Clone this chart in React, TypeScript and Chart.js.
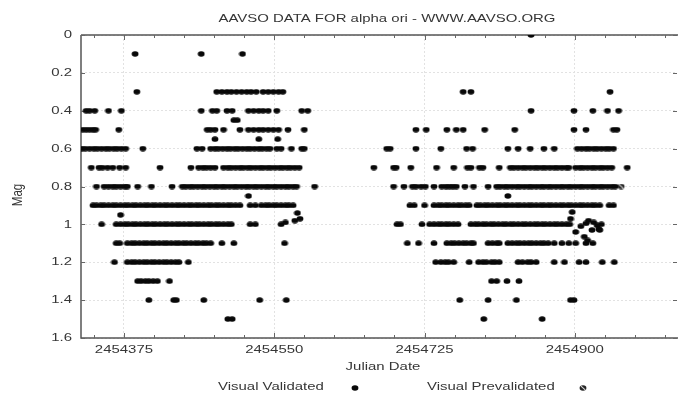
import React, { useEffect, useRef } from 'react';
import { Chart, registerables } from 'chart.js';

Chart.register(...registerables);

// ---- Text ----
const TITLE = 'AAVSO DATA FOR alpha ori - WWW.AAVSO.ORG';
const X_TITLE = 'Julian Date';
const Y_TITLE = 'Mag';
const LEGEND_VALIDATED = 'Visual Validated';
const LEGEND_PREVALIDATED = 'Visual Prevalidated';

// ---- Axes ----
const X_MIN = 2454325;
const X_MAX = 2455019;
const xMajorTicks = [2454375, 2454550, 2454725, 2454900];
const xMinorTicks = [
  2454340, 2454410, 2454445, 2454480, 2454515, 2454585, 2454620, 2454655, 2454690,
  2454760, 2454795, 2454830, 2454865, 2454935, 2454970, 2455005,
];
const Y_MIN = 0;
const Y_MAX = 1.6;
const yTicks = [0, 0.2, 0.4, 0.6, 0.8, 1.0, 1.2, 1.4, 1.6];

// ---- Data: Visual Validated, Julian dates grouped by magnitude row ----
const mag0_0 = [2454849];
const mag0_1 = [2454388, 2454465, 2454513];
const mag0_3 = [
  2454390, 2454483, 2454489, 2454495, 2454500, 2454506, 2454512, 2454518, 2454523, 2454529,
  2454537, 2454543, 2454549, 2454555, 2454560, 2454770, 2454779, 2454941,
];
const mag0_4 = [
  2454331, 2454335, 2454341, 2454357, 2454372, 2454465, 2454478, 2454483, 2454495, 2454501,
  2454520, 2454526, 2454532, 2454537, 2454543, 2454553, 2454582, 2454589, 2454849, 2454899,
  2454921, 2454938, 2454951,
];
const mag0_45 = [2454503, 2454507];
const mag0_5 = [
  2454327, 2454331, 2454335, 2454339, 2454342, 2454369, 2454472, 2454476, 2454481, 2454491,
  2454510, 2454520, 2454526, 2454532, 2454537, 2454543, 2454549, 2454555, 2454566, 2454585,
  2454715, 2454727, 2454751, 2454762, 2454770, 2454795, 2454830, 2454899, 2454913, 2454945,
  2454949,
];
const mag0_55 = [2454481, 2454532, 2454554];
const mag0_6 = [
  2454326, 2454330, 2454335, 2454340, 2454344, 2454349, 2454354, 2454358, 2454363, 2454367,
  2454372, 2454377, 2454397, 2454460, 2454466, 2454476, 2454481, 2454485, 2454490, 2454495,
  2454499, 2454504, 2454508, 2454513, 2454518, 2454522, 2454527, 2454532, 2454536, 2454541,
  2454545, 2454553, 2454558, 2454570, 2454582, 2454585, 2454681, 2454685, 2454715, 2454744,
  2454774, 2454781, 2454822, 2454834, 2454848, 2454864, 2454876, 2454903, 2454908, 2454913,
  2454917, 2454922, 2454926, 2454931, 2454936, 2454940, 2454945,
];
const mag0_7 = [
  2454337, 2454346, 2454350, 2454356, 2454362, 2454370, 2454377, 2454417, 2454453, 2454462,
  2454467, 2454471, 2454476, 2454481, 2454491, 2454496, 2454500, 2454505, 2454510, 2454514,
  2454519, 2454523, 2454528, 2454533, 2454537, 2454542, 2454546, 2454551, 2454556, 2454560,
  2454565, 2454569, 2454574, 2454579, 2454666, 2454689, 2454692, 2454709, 2454739, 2454759,
  2454775, 2454779, 2454789, 2454793, 2454812, 2454825, 2454829, 2454834, 2454839, 2454843,
  2454848, 2454853, 2454857, 2454862, 2454866, 2454871, 2454876, 2454880, 2454885, 2454890,
  2454893, 2454901, 2454906, 2454910, 2454915, 2454920, 2454924, 2454929, 2454933, 2454938,
  2454943, 2454961,
];
const mag0_8 = [
  2454343, 2454352, 2454357, 2454362, 2454366, 2454371, 2454376, 2454379, 2454391, 2454407,
  2454431, 2454443, 2454447, 2454452, 2454456, 2454461, 2454466, 2454470, 2454475, 2454480,
  2454484, 2454489, 2454493, 2454498, 2454503, 2454507, 2454512, 2454517, 2454521, 2454526,
  2454530, 2454535, 2454540, 2454544, 2454549, 2454553, 2454558, 2454563, 2454567, 2454572,
  2454576, 2454597, 2454689, 2454701, 2454711, 2454715, 2454721, 2454726, 2454736, 2454745,
  2454750, 2454754, 2454758, 2454762, 2454772, 2454782, 2454799, 2454809, 2454813, 2454818,
  2454822, 2454827, 2454832, 2454836, 2454841, 2454846, 2454850, 2454855, 2454860, 2454864,
  2454869, 2454873, 2454878, 2454883, 2454887, 2454892, 2454896, 2454901, 2454906, 2454910,
  2454915, 2454920, 2454924, 2454929, 2454933, 2454938, 2454943, 2454947,
];
const mag0_85 = [2454520, 2454822];
const mag0_9 = [
  2454339, 2454343, 2454348, 2454352, 2454357, 2454362, 2454366, 2454371, 2454376, 2454380,
  2454385, 2454389, 2454394, 2454399, 2454403, 2454408, 2454412, 2454417, 2454422, 2454426,
  2454431, 2454436, 2454440, 2454445, 2454450, 2454454, 2454459, 2454463, 2454468, 2454473,
  2454477, 2454482, 2454486, 2454491, 2454496, 2454500, 2454505, 2454510, 2454522, 2454528,
  2454535, 2454540, 2454544, 2454549, 2454553, 2454558, 2454563, 2454567, 2454572,
  2454708, 2454713, 2454725, 2454736, 2454741, 2454745, 2454750, 2454754, 2454759, 2454764,
  2454768, 2454773, 2454777, 2454786, 2454790, 2454795, 2454799, 2454804, 2454809, 2454813,
  2454818, 2454822, 2454827, 2454832, 2454836, 2454841, 2454846, 2454850, 2454855, 2454860,
  2454864, 2454869, 2454873, 2454878, 2454883, 2454887, 2454892, 2454896, 2454901, 2454906,
  2454910, 2454915, 2454920, 2454924, 2454929, 2454940, 2454945,
];
const mag1_0 = [
  2454349, 2454366, 2454371, 2454376, 2454380, 2454385, 2454389, 2454394, 2454399, 2454403,
  2454408, 2454412, 2454417, 2454422, 2454426, 2454431, 2454436, 2454440, 2454445, 2454450,
  2454454, 2454459, 2454463, 2454468, 2454473, 2454477, 2454482, 2454486, 2454491, 2454496,
  2454500, 2454522, 2454528, 2454558,
  2454693, 2454697, 2454722, 2454731, 2454736, 2454741, 2454745, 2454750, 2454754, 2454759,
  2454764, 2454779, 2454784, 2454788, 2454793, 2454797, 2454802, 2454806, 2454811, 2454816,
  2454820, 2454825, 2454829, 2454834, 2454839, 2454843, 2454848, 2454853, 2454857, 2454862,
  2454866, 2454871, 2454876, 2454880, 2454885, 2454890, 2454894, 2454931,
];
const mag1_1 = [
  2454366, 2454370, 2454379, 2454384, 2454388, 2454393, 2454398, 2454402, 2454407, 2454411,
  2454416, 2454421, 2454425, 2454430, 2454435, 2454439, 2454444, 2454448, 2454453, 2454458,
  2454462, 2454467, 2454471, 2454476, 2454489, 2454503, 2454562,
  2454705, 2454718, 2454736, 2454751, 2454756, 2454760, 2454765, 2454770, 2454774, 2454779,
  2454782, 2454799, 2454804, 2454809, 2454812, 2454822, 2454827, 2454832, 2454836, 2454841,
  2454846, 2454850, 2454855, 2454860, 2454864, 2454869, 2454876, 2454885, 2454893, 2454901,
  2454913, 2454921,
];
const mag1_2 = [
  2454364, 2454379, 2454384, 2454388, 2454393, 2454398, 2454402, 2454407, 2454411, 2454416,
  2454421, 2454425, 2454430, 2454435, 2454439, 2454450,
  2454738, 2454744, 2454749, 2454753, 2454759, 2454777, 2454788, 2454793, 2454797, 2454803,
  2454807, 2454812, 2454834, 2454839, 2454845, 2454849, 2454855, 2454876, 2454888, 2454905,
  2454913, 2454932, 2454946,
];
const mag1_3 = [2454391, 2454395, 2454400, 2454404, 2454409, 2454414, 2454428, 2454803, 2454809, 2454821, 2454835];
const mag1_4 = [2454404, 2454433, 2454436, 2454468, 2454533, 2454564, 2454766, 2454799, 2454832, 2454895, 2454899];
const mag1_5 = [2454496, 2454501, 2454794, 2454862];

// off-row validated observations
const extraJD = [
  2454371, 2454577, 2454563, 2454574, 2454580, 2454897, 2454895, 2454901, 2454907,
  2454913, 2454916, 2454922, 2454926, 2454928, 2454920, 2454911, 2454915, 2454929,
];
const extraMag = [
  0.95, 0.94, 0.99, 0.98, 0.97, 0.935, 0.97, 1.04, 1.01,
  0.995, 0.98, 0.99, 1.005, 1.025, 1.03, 1.065, 1.085, 1.03,
];

// ---- Data: Visual Prevalidated ----
const prevalidatedJD = [2454954];
const prevalidatedMag = [0.8];

const rowMags = [0.0, 0.1, 0.3, 0.4, 0.45, 0.5, 0.55, 0.6, 0.7, 0.8, 0.85, 0.9, 1.0, 1.1, 1.2, 1.3, 1.4, 1.5];
const rowDates = [
  mag0_0, mag0_1, mag0_3, mag0_4, mag0_45, mag0_5, mag0_55, mag0_6, mag0_7, mag0_8,
  mag0_85, mag0_9, mag1_0, mag1_1, mag1_2, mag1_3, mag1_4, mag1_5,
];

const FONT = '11.5px "Liberation Sans", Arial, sans-serif';
const TEXT_COLOR = '#363636';
const SX = 1.3;

function makeMarker(pre: boolean): HTMLCanvasElement {
  const c = document.createElement('canvas');
  c.width = 8;
  c.height = 6;
  const g = c.getContext('2d') as CanvasRenderingContext2D;
  g.fillStyle = pre ? '#262626' : '#080808';
  g.beginPath();
  g.ellipse(4, 3, 3.4, 2.8, 0, 0, Math.PI * 2);
  g.fill();
  if (pre) {
    g.strokeStyle = '#d8d8d8';
    g.lineWidth = 1.1;
    g.beginPath();
    g.moveTo(2, 1.2);
    g.lineTo(6.2, 4.9);
    g.stroke();
  }
  return c;
}

function drawText(
  ctx: CanvasRenderingContext2D,
  text: string,
  x: number,
  y: number,
  align: CanvasTextAlign,
  rotate = false,
) {
  ctx.save();
  ctx.translate(x, y);
  if (rotate) {
    ctx.rotate(-Math.PI / 2);
    ctx.scale(1, SX);
  } else {
    ctx.scale(SX, 1);
  }
  ctx.font = FONT;
  ctx.fillStyle = TEXT_COLOR;
  ctx.textAlign = align;
  ctx.textBaseline = 'middle';
  ctx.fillText(text, 0, 0);
  ctx.restore();
}

function fmtMag(v: number): string {
  const r = Math.round(v * 10) / 10;
  return Number.isInteger(r) ? String(r) : r.toFixed(1);
}

export default function App() {
  const ref = useRef<HTMLCanvasElement>(null);

  useEffect(() => {
    const canvas = ref.current;
    if (!canvas) return;
    const dot = makeMarker(false);
    const preDot = makeMarker(true);

    const validated: { x: number; y: number }[] = [];
    rowDates.forEach((dates, i) => {
      dates.forEach((jd) => validated.push({ x: jd, y: rowMags[i] }));
    });
    extraJD.forEach((jd, i) => validated.push({ x: jd, y: extraMag[i] }));
    const prevalidated = prevalidatedJD.map((jd, i) => ({ x: jd, y: prevalidatedMag[i] }));

    const decor = {
      id: 'decor',
      beforeDraw(chart: any) {
        const { ctx, width, height } = chart;
        ctx.save();
        ctx.fillStyle = '#ffffff';
        ctx.fillRect(0, 0, width, height);
        ctx.restore();
      },
      beforeDatasetsDraw(chart: any) {
        const { ctx, chartArea: a, scales } = chart;
        const xs = scales.x;
        const ys = scales.y;
        ctx.save();
        ctx.strokeStyle = '#555555';
        ctx.lineWidth = 1.5;
        ctx.beginPath();
        ctx.moveTo(a.left, a.top);
        ctx.lineTo(a.left, a.bottom);
        ctx.lineTo(a.right + 1, a.bottom);
        ctx.moveTo(a.left, a.top);
        ctx.lineTo(a.right + 1, a.top);
        ctx.stroke();
        ctx.lineWidth = 1;
        ctx.strokeStyle = '#666666';
        ctx.beginPath();
        xMinorTicks.forEach((v) => {
          const px = Math.round(xs.getPixelForValue(v)) + 0.5;
          ctx.moveTo(px, a.bottom);
          ctx.lineTo(px, a.bottom - 3);
          ctx.moveTo(px, a.top);
          ctx.lineTo(px, a.top + 3);
        });
        xMajorTicks.forEach((v) => {
          const px = Math.round(xs.getPixelForValue(v)) + 0.5;
          ctx.moveTo(px, a.bottom);
          ctx.lineTo(px, a.bottom - 5);
          ctx.moveTo(px, a.top);
          ctx.lineTo(px, a.top + 5);
        });
        yTicks.forEach((v) => {
          const py = Math.round(ys.getPixelForValue(v)) + 0.5;
          ctx.moveTo(a.left, py);
          ctx.lineTo(a.left + 4, py);
          ctx.moveTo(a.right, py);
          ctx.lineTo(a.right - 4, py);
        });
        ctx.stroke();
        ctx.restore();
      },
      afterDraw(chart: any) {
        const { ctx, chartArea: a, scales } = chart;
        const xs = scales.x;
        const ys = scales.y;
        drawText(ctx, TITLE, 387, 19, 'center');
        xMajorTicks.forEach((v) => {
          drawText(ctx, String(v), xs.getPixelForValue(v), 350, 'center');
        });
        yTicks.forEach((v) => {
          drawText(ctx, fmtMag(v), a.left - 9, ys.getPixelForValue(v), 'right');
        });
        drawText(ctx, X_TITLE, 383, 367, 'center');
        drawText(ctx, Y_TITLE, 18, 195, 'center', true);
        // legend
        drawText(ctx, LEGEND_VALIDATED, 218, 387, 'left');
        ctx.drawImage(dot, 355 - 4, 388 - 3);
        drawText(ctx, LEGEND_PREVALIDATED, 427, 387, 'left');
        ctx.drawImage(preDot, 583 - 4, 388 - 3);
      },
    };

    const chart = new Chart(canvas, {
      type: 'scatter',
      data: {
        datasets: [
          {
            label: LEGEND_VALIDATED,
            data: validated,
            pointStyle: dot as any,
            pointRadius: 3,
            backgroundColor: '#000',
            borderColor: '#000',
          },
          {
            label: LEGEND_PREVALIDATED,
            data: prevalidated,
            pointStyle: preDot as any,
            pointRadius: 3,
            backgroundColor: '#333',
            borderColor: '#333',
          },
        ],
      },
      options: {
        responsive: false,
        animation: false,
        devicePixelRatio: 1,
        events: [],
        layout: { padding: { left: 81, top: 35, right: 1, bottom: 56 } },
        plugins: {
          legend: { display: false },
          title: { display: false },
          tooltip: { enabled: false },
        },
        scales: {
          x: {
            type: 'linear',
            min: X_MIN,
            max: X_MAX,
            afterBuildTicks: (s: any) => {
              s.ticks = xMajorTicks.map((v) => ({ value: v }));
            },
            afterFit: (s: any) => {
              s.height = 0;
            },
            ticks: { display: false },
            grid: { color: '#e2e2e2', lineWidth: 1, drawTicks: false },
            border: { display: false, dash: [2, 2] },
          },
          y: {
            type: 'linear',
            reverse: true,
            min: Y_MIN,
            max: Y_MAX,
            afterBuildTicks: (s: any) => {
              s.ticks = yTicks.map((v) => ({ value: v }));
            },
            afterFit: (s: any) => {
              s.width = 0;
            },
            ticks: { display: false },
            grid: { color: '#e2e2e2', lineWidth: 1, drawTicks: false },
            border: { display: false, dash: [2, 2] },
          },
        },
      },
      plugins: [decor],
    });

    return () => chart.destroy();
  }, []);

  return (
    <div style={{ position: 'fixed', left: 0, top: 0, width: 682, height: 394, background: '#fff' }}>
      <canvas ref={ref} width={682} height={394} style={{ display: 'block', width: 682, height: 394 }} />
    </div>
  );
}
